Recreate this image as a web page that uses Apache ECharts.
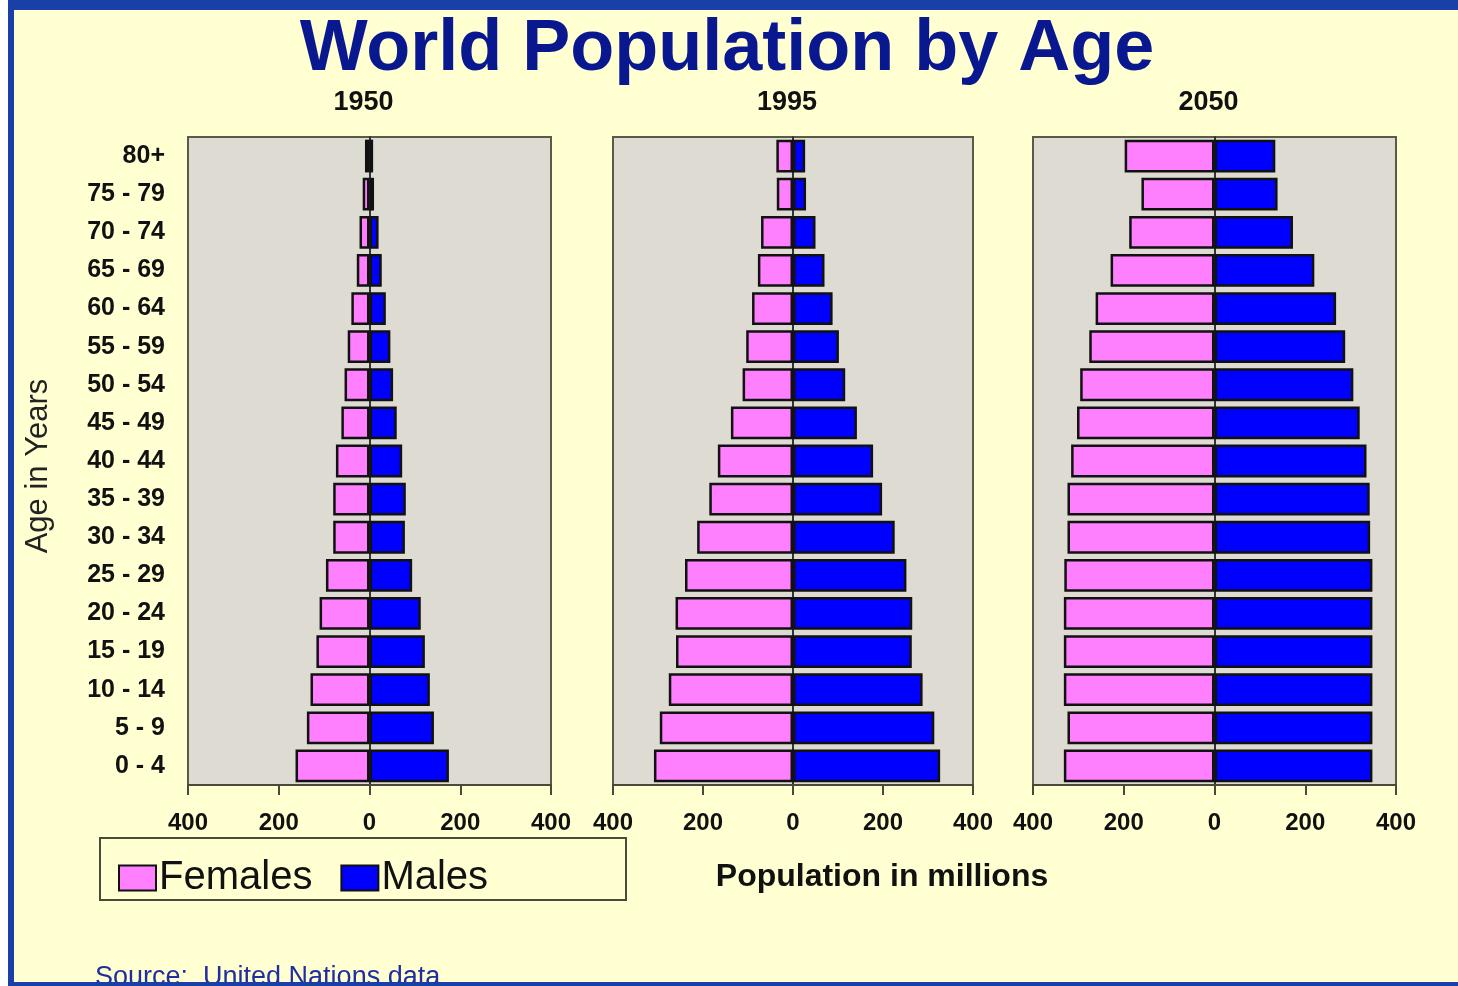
<!DOCTYPE html>
<html>
<head>
<meta charset="utf-8">
<script src="https://cdn.jsdelivr.net/npm/echarts@6/dist/echarts.min.js"></script>
<style>
  html, body { margin: 0; padding: 0; background: #ffffd2; }
  #chart { width: 1458px; height: 986px; }
</style>
</head>
<body>
<div id="chart"></div>
<script>
// age groups, top to bottom
const ageGroups = ["80+", "75 - 79", "70 - 74", "65 - 69", "60 - 64", "55 - 59", "50 - 54", "45 - 49",
  "40 - 44", "35 - 39", "30 - 34", "25 - 29", "20 - 24", "15 - 19", "10 - 14", "5 - 9", "0 - 4"];

const years = ["1950", "1995", "2050"];

// population in millions, same order as ageGroups
const females1950 = [10, 15, 22, 28, 40, 48, 55, 62, 74, 80, 80, 96, 110, 117, 130, 138, 163];
const males1950 = [8, 10, 20, 27, 36, 46, 52, 60, 72, 80, 78, 94, 113, 122, 133, 142, 175];

const females1995 = [37, 36, 71, 78, 91, 104, 112, 138, 167, 186, 213, 240, 261, 260, 276, 296, 309];
const males1995 = [27, 29, 50, 70, 88, 102, 116, 142, 178, 198, 226, 252, 265, 264, 288, 314, 327];

const females2050 = [198, 161, 188, 229, 262, 276, 296, 303, 316, 324, 324, 331, 332, 332, 332, 324, 332];
const males2050 = [134, 139, 173, 220, 268, 288, 306, 320, 335, 342, 343, 348, 348, 348, 348, 348, 348];

const femaleSets = [females1950, females1995, females2050];
const maleSets = [males1950, males1995, males2050];

const PINK = "#ff80ff";
const BLUE = "#0000ff";
const NARROW = "'Liberation Sans Narrow', 'Arial Narrow', 'Liberation Sans', Arial, sans-serif";
const SANS = "'Liberation Sans', Arial, sans-serif";

const panels = [
  { left: 188, width: 363 },
  { left: 613, width: 360 },
  { left: 1033, width: 363 }
];

const chart = echarts.init(document.getElementById("chart"));

const grids = panels.map((p) => ({
  left: p.left,
  width: p.width,
  top: 137,
  height: 648,
  show: true,
  backgroundColor: "#dedcd2",
  borderColor: "#5a5a48",
  borderWidth: 2
}));

const xAxes = panels.map((p, i) => ({
  type: "value",
  gridIndex: i,
  min: -400,
  max: 400,
  interval: 200,
  splitLine: { show: false },
  axisLine: { show: true, lineStyle: { color: "#4a4a3a", width: 2 } },
  axisTick: { show: true, length: 10, lineStyle: { color: "#4a4a3a", width: 2 } },
  axisLabel: {
    color: "#111",
    fontSize: 24,
    fontWeight: "bold",
    fontFamily: NARROW,
    margin: 26,
    formatter: (v) => Math.abs(v)
  }
}));

const yAxes = panels.map((p, i) => ({
  type: "category",
  gridIndex: i,
  data: ageGroups,
  inverse: true,
  axisTick: { show: false },
  axisLine: { show: true, lineStyle: { color: "#333", width: 2 } },
  axisLabel: {
    show: i === 0,
    color: "#111",
    fontSize: 25,
    fontWeight: "bold",
    fontFamily: NARROW,
    margin: 23
  }
}));

const series = [];
years.forEach((year, i) => {
  series.push({
    name: "Females",
    type: "bar",
    xAxisIndex: i,
    yAxisIndex: i,
    stack: "pop" + i,
    barCategoryGap: "14%",
    data: femaleSets[i].map((v) => -v),
    itemStyle: { color: PINK, borderColor: "#111", borderWidth: 2.5 }
  });
  series.push({
    name: "Males",
    type: "bar",
    xAxisIndex: i,
    yAxisIndex: i,
    stack: "pop" + i,
    barCategoryGap: "14%",
    data: maleSets[i],
    itemStyle: { color: BLUE, borderColor: "#111", borderWidth: 2.5 }
  });
});

const yearTitles = years.map((year, i) => ({
  text: year,
  left: panels[i].left + panels[i].width / 2 - 11,
  top: 84,
  textAlign: "center",
  textStyle: { fontSize: 27, fontWeight: "bold", fontFamily: NARROW, color: "#111" }
}));

chart.setOption({
  backgroundColor: "#ffffd2",
  animation: false,
  title: [
    {
      text: "World Population by Age",
      left: 722,
      top: 9,
      textAlign: "center",
      textStyle: { fontSize: 72, fontWeight: "bold", fontFamily: SANS, color: "#0a1890" }
    },
    ...yearTitles
  ],
  legend: {
    left: 113,
    top: 853,
    icon: "rect",
    itemWidth: 37,
    itemHeight: 25,
    itemGap: 28,
    data: ["Females", "Males"],
    textStyle: { fontSize: 40, fontFamily: SANS, color: "#111", padding: [0, 0, 0, -2] }
  },
  grid: grids,
  xAxis: xAxes,
  yAxis: yAxes,
  series: series,
  graphic: [
    {
      type: "rect",
      shape: { x: 100, y: 838, width: 526, height: 62 },
      style: { fill: "none", stroke: "#4a4a3a", lineWidth: 2 },
      z: 10
    },
    {
      type: "text",
      x: 38,
      y: 466,
      rotation: Math.PI / 2,
      style: {
        text: "Age in Years",
        fill: "#222",
        font: "31px " + SANS,
        align: "center",
        verticalAlign: "middle"
      }
    },
    {
      type: "text",
      x: 882,
      y: 877,
      style: {
        text: "Population in millions",
        fill: "#111",
        font: "bold 32px " + SANS,
        align: "center",
        verticalAlign: "middle"
      }
    },
    {
      type: "text",
      x: 95,
      y: 964,
      style: {
        text: "Source:  United Nations data",
        fill: "#1f2f9f",
        font: "27px " + SANS,
        align: "left",
        verticalAlign: "top"
      },
      z: 5
    },
    // outer frame: top, left, bottom
    {
      type: "rect",
      shape: { x: 0, y: 0, width: 1458, height: 10 },
      style: { fill: "#1a40a8" },
      z: 20
    },
    {
      type: "rect",
      shape: { x: 0, y: 0, width: 14, height: 986 },
      style: { fill: "#1a40a8" },
      z: 20
    },
    {
      type: "rect",
      shape: { x: 0, y: 982, width: 1458, height: 4 },
      style: { fill: "#1a40a8" },
      z: 20
    },
    {
      type: "rect",
      shape: { x: 0, y: 0, width: 8, height: 986 },
      style: { fill: "#ffffff" },
      z: 21
    }
  ]
});
</script>
</body>
</html>
